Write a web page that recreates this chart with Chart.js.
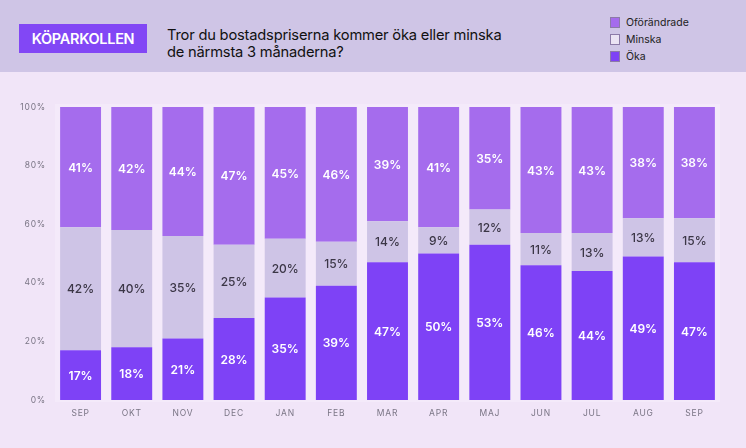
<!DOCTYPE html>
<html>
<head>
<meta charset="utf-8">
<script src="https://cdn.jsdelivr.net/npm/chart.js@4"></script>
<style>
  body { margin: 0; width: 746px; height: 448px; background: #f1e5f8; font-family: Inter, "Noto Sans", sans-serif; overflow: hidden; }
  #header { position: absolute; left: 0; top: 0; width: 746px; height: 72px; background: #cfc5e6; }
  #badge { position: absolute; left: 19px; top: 24px; width: 128px; height: 29px; background: #8247f5; color: #fff;
           font-size: 14.5px; font-weight: 600; line-height: 29px; text-align: center; letter-spacing: -0.3px; }
  #title { position: absolute; left: 167px; top: 27px; font-size: 14.7px; line-height: 17px; color: #111; letter-spacing: -0.2px; }
  #legend { position: absolute; left: 610px; top: 14px; font-size: 10.5px; color: #222; }
  .item { height: 17px; display: flex; align-items: center; }
  .sw { width: 10px; height: 11px; border: 1px solid #8c7aa8; margin-right: 6px; box-sizing: border-box; }
  #wrap { position: absolute; left: 0; top: 72px; width: 746px; height: 376px; }
</style>
</head>
<body>
<div id="header">
  <div id="badge">KÖPARKOLLEN</div>
  <div id="title">Tror du bostadspriserna kommer öka eller minska<br>de närmsta 3 månaderna?</div>
  <div id="legend"></div>
</div>
<div id="wrap"><canvas id="chart" width="746" height="376"></canvas></div>
<script>
const months = ['SEP', 'OKT', 'NOV', 'DEC', 'JAN', 'FEB', 'MAR', 'APR', 'MAJ', 'JUN', 'JUL', 'AUG', 'SEP']
const oka = [17, 18, 21, 28, 35, 39, 47, 50, 53, 46, 44, 49, 47]
const minska = [42, 40, 35, 25, 20, 15, 14, 9, 12, 11, 13, 13, 15]
const oforandrade = [41, 42, 44, 47, 45, 46, 39, 41, 35, 43, 43, 38, 38]
const yTicks = [0, 20, 40, 60, 80, 100]

const okaColor = '#7e42f6', minskaColor = '#cec4e6', oforColor = '#a56ced'

// legend in the header (top to bottom as in the picture)
const legendItems = [
    ['Oförändrade', oforColor],
    ['Minska', '#ebe3f4'],
    ['Öka', okaColor]
]
const legendDiv = document.getElementById('legend')
legendItems.forEach(([name, color]) => {
    const row = document.createElement('div')
    row.className = 'item'
    row.innerHTML = '<span class="sw" style="background:' + color + '"></span>' + name
    legendDiv.appendChild(row)
})

// light panel behind the bars + letter spacing for axis text
const panelPlugin = {
    id: 'panel',
    beforeDraw(chart) {
        const { ctx, chartArea: a } = chart
        ctx.save()
        ctx.fillStyle = '#f4eafa'
        ctx.fillRect(a.left, a.top - 3, a.right - a.left, a.bottom - a.top + 5)
        ctx.restore()
        ctx.letterSpacing = '0.8px'
    },
    beforeDatasetsDraw(chart) {
        chart.ctx.letterSpacing = '0px'
    }
}

// percentage labels in the middle of each segment
const labelPlugin = {
    id: 'segLabels',
    afterDatasetsDraw(chart) {
        const ctx = chart.ctx
        ctx.save()
        ctx.textAlign = 'center'
        ctx.textBaseline = 'middle'
        chart.data.datasets.forEach((ds, i) => {
            const meta = chart.getDatasetMeta(i)
            const dark = ds.label === 'Minska'
            ctx.fillStyle = dark ? '#3b3646' : '#ffffff'
            ctx.font = (dark ? '500' : '600') + ' 12px Inter, "Noto Sans", sans-serif'
            meta.data.forEach((bar, j) => {
                const y = (bar.y + bar.base) / 2 + 1
                ctx.fillText(ds.data[j] + '%', bar.x, y)
            })
        })
        ctx.restore()
    }
}

new Chart(document.getElementById('chart'), {
    type: 'bar',
    data: {
        labels: months,
        datasets: [
            { label: 'Öka', data: oka, backgroundColor: okaColor },
            { label: 'Minska', data: minska, backgroundColor: minskaColor },
            { label: 'Oförändrade', data: oforandrade, backgroundColor: oforColor }
        ]
    },
    options: {
        responsive: false,
        animation: false,
        categoryPercentage: 1,
        barPercentage: 0.8,
        layout: { padding: { top: 35, right: 26, left: 0, bottom: 0 } },
        plugins: { legend: { display: false }, tooltip: { enabled: false } },
        scales: {
            x: {
                stacked: true,
                grid: { display: false, drawTicks: false },
                border: { display: false },
                ticks: { color: '#7a7585', font: { size: 8.5, family: 'Inter' }, padding: 8 },
                afterFit: (s) => { s.height = 48 }
            },
            y: {
                stacked: true,
                min: 0, max: 100,
                grid: { display: false, drawTicks: false },
                border: { display: false },
                afterBuildTicks: (s) => { s.ticks = yTicks.map(v => ({ value: v })) },
                ticks: { color: '#7a7585', font: { size: 8.5, family: 'Inter' }, padding: 9, callback: v => v + '%' },
                afterFit: (s) => { s.width = 55 }
            }
        }
    },
    plugins: [panelPlugin, labelPlugin]
})
</script>
</body>
</html>
